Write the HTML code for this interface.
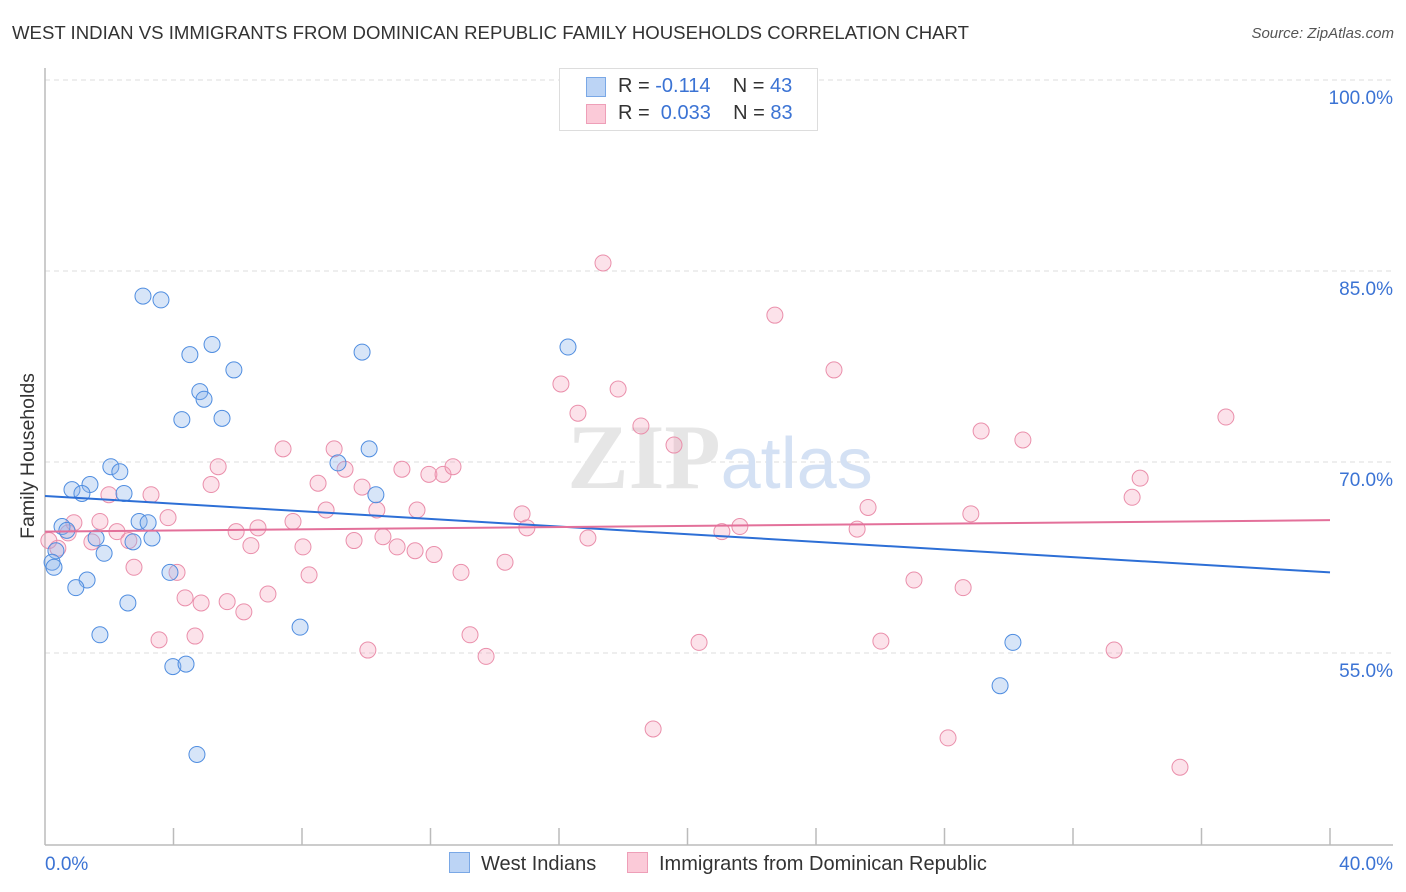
<!DOCTYPE html>
<html><head><meta charset="utf-8">
<style>
body{margin:0;background:#fff;font-family:"Liberation Sans",sans-serif;}
#wrap{position:relative;width:1406px;height:892px;overflow:hidden;}
.t{position:absolute;white-space:nowrap;}
</style></head>
<body>
<div id="wrap">
<div class="t" style="left:12px;top:22px;font-size:18.6px;color:#333;">WEST INDIAN VS IMMIGRANTS FROM DOMINICAN REPUBLIC FAMILY HOUSEHOLDS CORRELATION CHART</div>
<div class="t" style="right:12px;top:25px;font-size:15px;color:#555;font-style:italic;">Source: ZipAtlas.com</div>
<svg id="svg" width="1406" height="892" style="position:absolute;left:0;top:0"></svg>
</div>
<script>
const xTicks=[4,8,12,16,20,24,28,32,36,40];
const yTicks=[55,70,85,100];
const blueX=[3.05,3.61,4.51,5.20,5.88,4.82,4.95,4.26,5.51,9.87,16.28,10.09,9.12,10.30,2.05,2.33,2.46,0.84,1.40,1.15,0.53,0.68,1.59,1.84,2.93,3.21,2.74,3.33,0.34,0.22,0.28,3.89,1.31,0.96,2.58,1.71,7.94,3.98,4.39,30.13,29.73,4.73];
const blueY=[85.7,85.4,81.1,81.9,79.9,78.2,77.6,76.0,76.1,81.3,81.7,73.7,72.6,70.1,72.3,71.9,70.2,70.5,70.9,70.2,67.6,67.3,66.7,65.5,68.0,67.9,66.4,66.7,65.7,64.8,64.4,64.0,63.4,62.8,61.6,59.1,59.7,56.6,56.8,58.5,55.1,49.7];
const pinkX=[17.37,22.72,24.56,16.06,17.84,16.59,18.55,19.58,29.14,30.44,36.76,34.09,33.84,7.41,9.00,5.39,5.17,9.34,11.11,11.95,12.39,12.70,8.50,9.87,3.30,1.99,8.75,10.33,11.58,14.85,15.00,25.62,28.82,3.83,1.71,0.90,7.72,6.63,5.95,2.24,2.61,1.46,0.72,10.52,9.62,10.96,11.52,12.11,16.90,21.07,21.63,25.28,6.41,8.03,2.77,4.11,8.22,12.95,14.32,27.05,28.58,6.94,4.36,4.86,5.67,6.19,3.55,4.67,13.23,20.36,26.02,10.05,13.73,33.28,18.93,28.11,35.33,0.40,0.12];
const pinkY=[88.3,84.2,79.9,78.8,78.4,76.5,75.5,74.0,75.1,74.4,76.2,71.4,69.9,73.7,73.7,72.3,70.9,72.1,72.1,71.7,71.7,72.3,71.0,70.7,70.1,70.1,68.9,68.9,68.9,68.6,67.5,69.1,68.6,68.3,68.0,67.9,68.0,67.5,67.2,67.2,66.5,66.4,67.1,66.8,66.5,66.0,65.7,65.4,66.7,67.2,67.6,67.4,66.1,66.0,64.4,64.0,63.8,64.0,64.8,63.4,62.8,62.3,62.0,61.6,61.7,60.9,58.7,59.0,59.1,58.5,58.6,57.9,57.4,57.9,51.7,51.0,48.7,65.9,66.5];
const blueTrend=[70.0,64.0];
const pinkTrend=[67.2,68.1];
const NS="http://www.w3.org/2000/svg";
const svg=document.getElementById('svg');
const X0=45,X1=1330,YTOP=114,PXPER=12.733,GRIDOFF=34;
function xs(v){return X0+(v-0)/40*(X1-X0);}
function ys(v){return YTOP+(100-v)*PXPER;}
function mk(tag,attrs){const e=document.createElementNS(NS,tag);for(const k in attrs)e.setAttribute(k,attrs[k]);svg.appendChild(e);return e;}
yTicks.forEach(v=>{
 const g=mk('line',{x1:X0,x2:1393,y1:ys(v)-GRIDOFF,y2:ys(v)-GRIDOFF,stroke:'#ddd','stroke-dasharray':'5,4','stroke-width':1});
 
 
 const t=mk('text',{x:1393,y:ys(v)-GRIDOFF+24,'text-anchor':'end','font-size':19,fill:'#3b73d4','font-family':'Liberation Sans, sans-serif'});
 t.textContent=v.toFixed(1)+'%';
 
 
});
const ax=mk('line',{x1:X0,x2:X0,y1:68,y2:845,stroke:'#bbb','stroke-width':1.5});


const bx=mk('line',{x1:X0,x2:1393,y1:845,y2:845,stroke:'#bbb','stroke-width':1.5});


xTicks.forEach(v=>{
 const l=mk('line',{x1:xs(v),x2:xs(v),y1:828,y2:845,stroke:'#bbb','stroke-width':1.5});
 
 
});
[[0,'start'],[40,'end']].forEach(([v,a])=>{
 const t=mk('text',{x:v===0?45:1393,y:870,'text-anchor':a,'font-size':19,fill:'#3b73d4','font-family':'Liberation Sans, sans-serif'});
 t.textContent=v.toFixed(1)+'%';
 
 
});
const wm=mk('text',{x:720,y:488,'text-anchor':'middle','font-size':92,'font-family':'Liberation Serif, serif',fill:'#e6e6e6'});
wm.innerHTML='<tspan font-weight="bold">ZIP</tspan><tspan font-family="Liberation Sans, sans-serif" fill="#d4e1f4" font-size="72">atlas</tspan>';


const yt=mk('text',{x:0,y:0,transform:'translate(34,456) rotate(-90)','text-anchor':'middle','font-size':19.5,fill:'#333','font-family':'Liberation Sans, sans-serif'});
yt.textContent='Family Households';


pinkX.forEach((x,i)=>{
 const c=mk('circle',{cx:xs(x),cy:ys(pinkY[i]),r:8,fill:'rgba(244,160,185,0.3)',stroke:'#ea8fab','stroke-width':1});
 
 
});
blueX.forEach((x,i)=>{
 const c=mk('circle',{cx:xs(x),cy:ys(blueY[i]),r:8,fill:'rgba(140,180,235,0.35)',stroke:'#4f8de0','stroke-width':1});
 
 
});
const bt=mk('line',{x1:xs(0),x2:xs(40),y1:ys(blueTrend[0]),y2:ys(blueTrend[1]),stroke:'#2d6fd6','stroke-width':2});


const pt=mk('line',{x1:xs(0),x2:xs(40),y1:ys(pinkTrend[0]),y2:ys(pinkTrend[1]),stroke:'#e3709a','stroke-width':2});


</script>
<div class="t" style="left:559px;top:68px;width:257px;height:61px;border:1px solid #ddd;background:#fff;font-size:20px;">
 <div style="position:absolute;left:26px;top:8px;width:18px;height:18px;background:#bcd4f5;border:1px solid #7aa8e6;"></div>
 <div style="position:absolute;left:58px;top:6px;color:#333">R = <span style="color:#3b73d4">-0.114</span>&nbsp;&nbsp;&nbsp; N = <span style="color:#3b73d4">43</span></div>
 <div style="position:absolute;left:26px;top:35px;width:18px;height:18px;background:#fbcad8;border:1px solid #ee9fb8;"></div>
 <div style="position:absolute;left:58px;top:33px;color:#333">R = &nbsp;<span style="color:#3b73d4">0.033</span>&nbsp;&nbsp;&nbsp; N = <span style="color:#3b73d4">83</span></div>
</div>
<div class="t" style="left:449px;top:852px;font-size:20px;color:#333;"><span style="display:inline-block;width:19px;height:19px;background:#bcd4f5;border:1px solid #7aa8e6;vertical-align:-3px;margin-right:11px"></span>West Indians</div>
<div class="t" style="left:627px;top:852px;font-size:20px;color:#333;"><span style="display:inline-block;width:19px;height:19px;background:#fbcad8;border:1px solid #ee9fb8;vertical-align:-3px;margin-right:11px"></span>Immigrants from Dominican Republic</div>
</body></html>
